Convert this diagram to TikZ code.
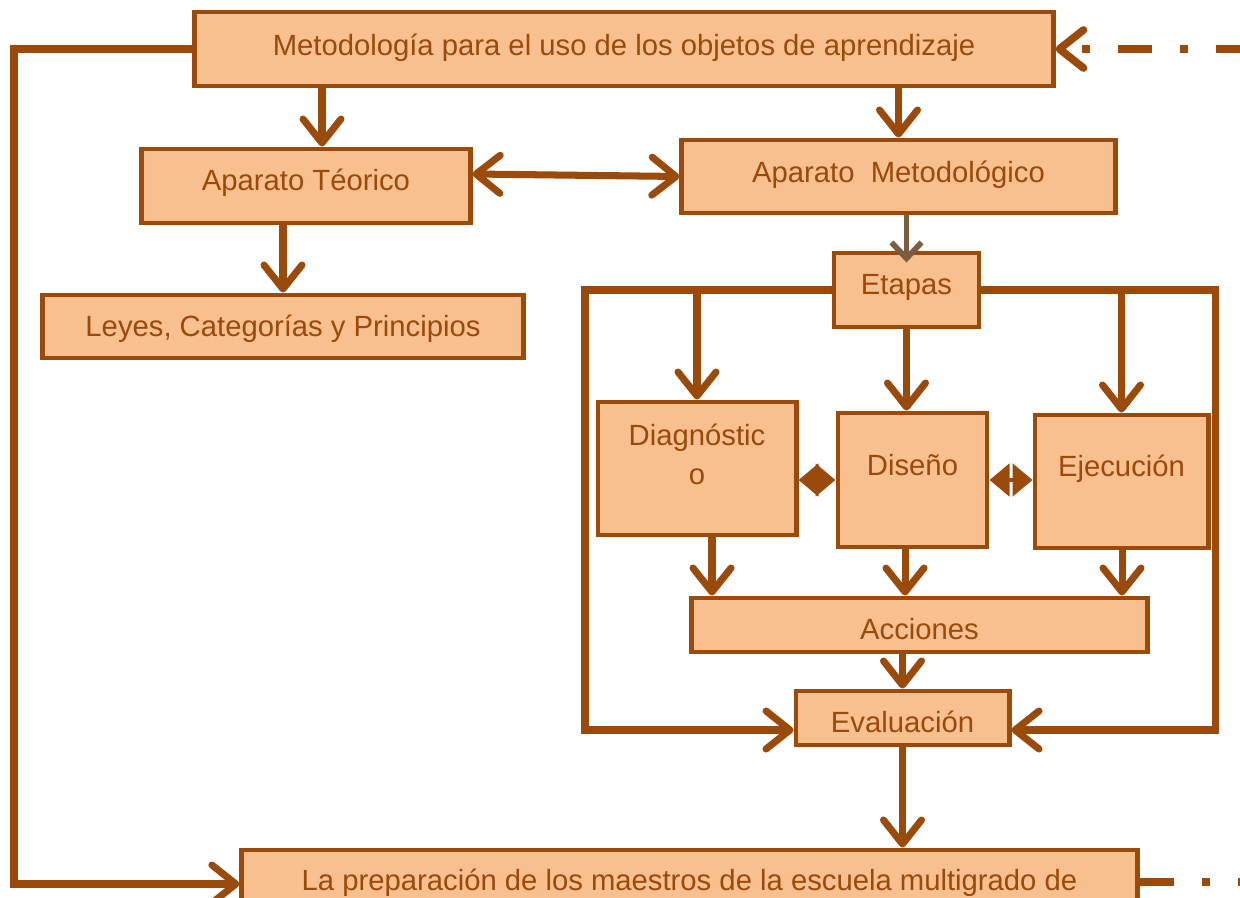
\documentclass[tikz,border=0pt]{standalone}
\usepackage{fontspec}
\setmainfont{Liberation Sans}
\usetikzlibrary{arrows.meta}

\definecolor{cafe}{RGB}{154,74,10}
\definecolor{melocoton}{RGB}{249,192,143}
\definecolor{grisCafe}{RGB}{122,92,64}

\begin{document}
\begin{tikzpicture}[x=0.025cm, y=-0.025cm,
        caja/.style={draw=cafe, fill=melocoton, line width=3.5pt, text=cafe, inner sep=0pt,
            font=\fontsize{20.8}{27.7}\selectfont},
        linea/.style={draw=cafe, line width=5pt},
        flecha/.style={linea, -{Straight Barb[length=0.6cm, width=0.95cm, round]}},
        dflecha/.style={linea, {Straight Barb[length=0.6cm, width=0.95cm, round]}-{Straight Barb[length=0.6cm, width=0.95cm, round]}},
        rombo/.style={linea, line width=3.5pt, {Triangle[length=0.5cm, width=0.8cm]}-{Triangle[length=0.5cm, width=0.8cm]}},
        punteo/.style={linea, line width=5.5pt, dash pattern=on 0.85cm off 0.7cm on 0.2cm off 0.7cm}]

        \clip (0, 0) rectangle (1240, 898);

        % cajas
        \node[caja, minimum width=21.45cm, minimum height=1.85cm, text height=19.3pt, text depth=10.7pt] (meto) at (624, 49) {Metodología para el uso de los objetos de aprendizaje};
        \node[caja, minimum width=8.2cm, minimum height=1.85cm, text height=19.3pt, text depth=13.5pt] (teo) at (306, 186) {Aparato Téorico};
        \node[caja, minimum width=10.825cm, minimum height=1.825cm, text height=19.3pt, text depth=11.4pt] (metod) at (898.5, 176.5) {Aparato\ \ Metodológico};
        \node[caja, minimum width=12cm, minimum height=1.575cm, text height=19.3pt, text depth=5pt] (leyes) at (283, 326.5) {Leyes, Categorías y Principios};
        \node[caja, minimum width=3.625cm, minimum height=1.85cm, text height=19.3pt, text depth=13.5pt] (etapas) at (906.5, 290) {Etapas};
        \node[caja, minimum width=4.95cm, minimum height=3.325cm, align=center, text depth=20pt] (diag) at (697, 468.5) {Diagnóstic\\o};
        \node[caja, minimum width=3.725cm, minimum height=3.35cm, text height=19.3pt, text depth=25pt] (diseno) at (912.5, 480) {Diseño};
        \node[caja, minimum width=4.325cm, minimum height=3.325cm, text height=19.3pt, text depth=27pt] (ejec) at (1121.5, 481.5) {Ejecución};
        \node[caja, minimum width=11.375cm, minimum height=1.35cm, text height=25pt, text depth=5pt] (acciones) at (919.5, 625) {Acciones};
        \node[caja, minimum width=5.325cm, minimum height=1.35cm, text height=25pt, text depth=5pt] (evaluacion) at (902.5, 718) {Evaluación};
        \node[caja, minimum width=22.375cm, minimum height=1.5cm, text height=19.3pt, text depth=5pt] (prep) at (689.5, 880) {La preparación de los maestros de la escuela multigrado de};

        \coordinate (borde1) at (1240, 49);
        \coordinate (borde2) at (1240, 882);

        % conexiones
        \draw[flecha] (meto.west) -- (14, 49) |- ([yshift=-0.1cm]prep.west);
        \draw[flecha] (meto.south -| 322,0) -- (teo.north -| 322,0);
        \draw[flecha] (meto.south -| metod.north) -- (metod.north);
        \draw[dflecha] ([yshift=0.3cm]teo.east) -- (metod.west);
        \draw[flecha] (teo.south -| leyes.north) -- (leyes.north);
        \draw[line width=4pt, draw=grisCafe, -{Straight Barb[length=0.4cm, width=0.75cm]}] (metod.south -| etapas.north) -- ([yshift=-0.3cm]etapas.north);

        \draw[flecha] (etapas.west) -- (585, 290) |- ([yshift=-0.3cm]evaluacion.west);
        \draw[flecha] (etapas.east) -- (1215, 290) |- ([yshift=-0.3cm]evaluacion.east);
        \draw[flecha] (diag.north |- etapas.west) -- (diag.north);
        \draw[flecha] (ejec.north |- etapas.east) -- (ejec.north);
        \draw[flecha] (etapas.south) -- (diseno.north -| etapas.south);

        \draw[rombo] (diag.east |- diseno.west) -- (diseno.west);
        \draw[rombo] (diseno.east) -- (ejec.west |- diseno.east);

        \foreach \caja/\x in {diag/712, diseno/905, ejec/1122} {
            \draw[flecha] (\caja.south -| \x,0) -- (acciones.north -| \x,0);
        }
        \draw[flecha] (acciones.south -| evaluacion.north) -- (evaluacion.north);
        \draw[flecha] (evaluacion.south) -- (prep.north -| evaluacion.south);

        \draw[punteo, dash phase=0.25cm, -{Straight Barb[length=0.6cm, width=0.95cm, round]}] (borde1) -- (meto.east);
        \draw[punteo] (prep.east |- borde2) -- (borde2);

    \end{tikzpicture}
\end{document}
